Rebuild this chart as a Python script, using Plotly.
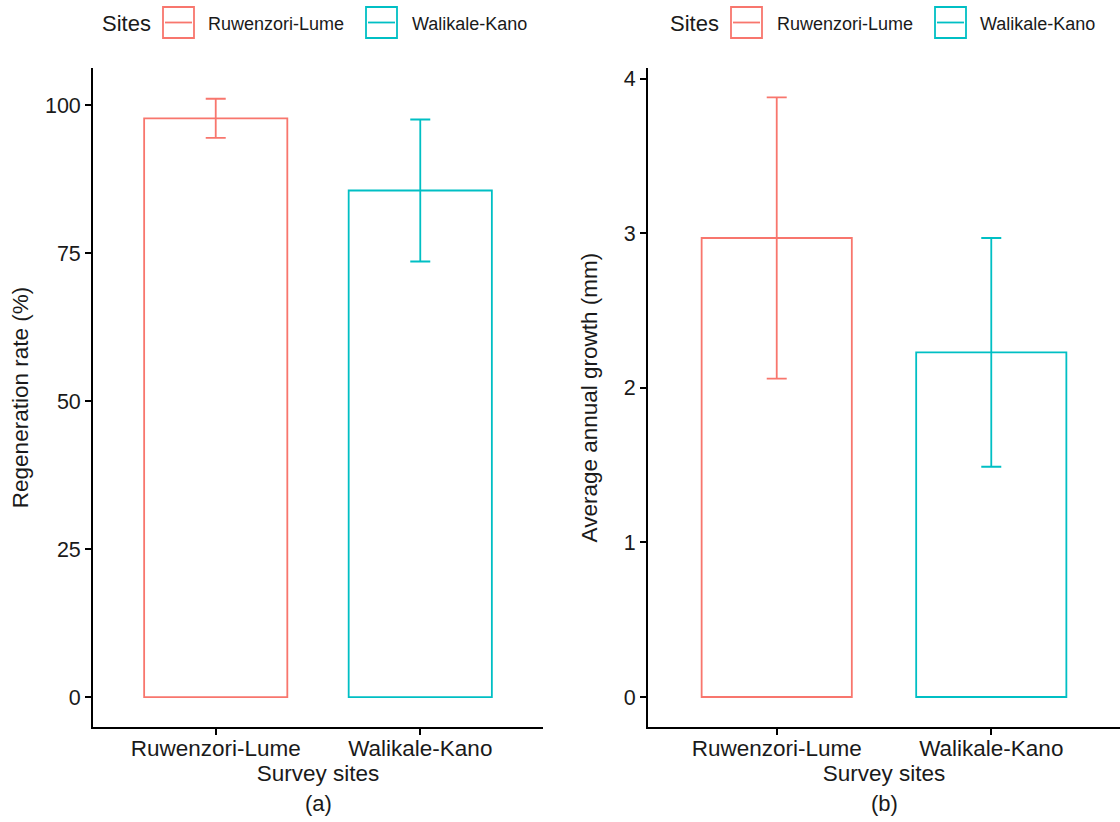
import plotly.graph_objects as go

sites = ["Ruwenzori-Lume", "Walikale-Kano"]
colors = ["#F8766D", "#00BFC4"]
regen = [97.8, 85.6]
regen_err = [3.3, 12.0]
growth = [2.97, 2.23]
growth_err = [0.91, 0.74]
legend_title = "Sites"

FONT = "Liberation Sans, Arial, sans-serif"
W, H = 1120, 822

fig = go.Figure()

for i, s in enumerate(sites):
    fig.add_trace(go.Bar(
        x=[s], y=[regen[i]], name=s, width=0.7,
        marker=dict(color="rgba(0,0,0,0)", line=dict(color=colors[i], width=1.8)),
        error_y=dict(type="data", array=[regen_err[i]], color=colors[i], thickness=1.8, width=10),
        xaxis="x", yaxis="y", showlegend=False,
    ))
for i, s in enumerate(sites):
    fig.add_trace(go.Bar(
        x=[s], y=[growth[i]], name=s, width=0.7,
        marker=dict(color="rgba(0,0,0,0)", line=dict(color=colors[i], width=1.8)),
        error_y=dict(type="data", array=[growth_err[i]], color=colors[i], thickness=1.8, width=10),
        xaxis="x2", yaxis="y2", showlegend=False,
    ))

def axis_common(tsize):
    return dict(
        showline=True, linecolor="black", linewidth=1.8, ticks="outside", ticklen=6,
        tickwidth=1.8, tickcolor="black", showgrid=False, zeroline=False,
        tickfont=dict(family=FONT, size=tsize, color="#1a1a1a"),
    )

# manual ggplot-style legends (key = outlined square with a horizontal line)
shapes = []
annotations = []
legend_specs = [
    dict(title_x=100, keys_x=[163, 366], text_x=[206, 410]),
    dict(title_x=668, keys_x=[731, 935], text_x=[775, 978]),
]
ky0, ky1 = 7, 38
for spec in legend_specs:
    annotations.append(dict(text=legend_title, x=spec["title_x"] / W, y=1 - 23 / H,
                            xref="paper", yref="paper", showarrow=False, xanchor="left",
                            yanchor="middle", font=dict(family=FONT, size=22, color="#1a1a1a")))
    for i, s in enumerate(sites):
        kx = spec["keys_x"][i]
        shapes.append(dict(type="rect", xref="paper", yref="paper",
                           x0=kx / W, x1=(kx + 31) / W, y0=1 - ky1 / H, y1=1 - ky0 / H,
                           line=dict(color=colors[i], width=1.8), fillcolor="white"))
        shapes.append(dict(type="line", xref="paper", yref="paper",
                           x0=(kx + 2) / W, x1=(kx + 29) / W,
                           y0=1 - (ky0 + ky1) / 2 / H, y1=1 - (ky0 + ky1) / 2 / H,
                           line=dict(color=colors[i], width=1.8)))
        annotations.append(dict(text=s, x=spec["text_x"][i] / W, y=1 - 24 / H,
                                xref="paper", yref="paper", showarrow=False, xanchor="left",
                                yanchor="middle", font=dict(family=FONT, size=18, color="#1a1a1a")))

annotations += [
    dict(text="(a)", x=(93 + 543) / 2 / W, y=1 - 803 / H, xref="paper", yref="paper",
         showarrow=False, font=dict(family=FONT, size=22, color="#1a1a1a"),
         xanchor="center", yanchor="middle"),
    dict(text="(b)", x=(648 + 1120) / 2 / W, y=1 - 803 / H, xref="paper", yref="paper",
         showarrow=False, font=dict(family=FONT, size=22, color="#1a1a1a"),
         xanchor="center", yanchor="middle"),
]

title_font = dict(family=FONT, size=22.5, color="#1a1a1a")

fig.update_layout(
    width=W, height=H,
    margin=dict(l=0, r=0, t=0, b=0),
    paper_bgcolor="white", plot_bgcolor="white",
    barmode="overlay", showlegend=False,
    font=dict(family=FONT, color="black"),
    xaxis=dict(domain=[93 / W, 543 / W], anchor="y", type="category",
               categoryorder="array", categoryarray=sites, range=[-0.6, 1.6],
               title=dict(text="Survey sites", font=title_font, standoff=3),
               ticklabelstandoff=-6,
               **axis_common(22.5)),
    yaxis=dict(domain=[1 - 727 / H, 1 - 68 / H], anchor="x", range=[-5.06, 106.3],
               tickvals=[0, 25, 50, 75, 100],
               title=dict(text="Regeneration rate (%)", font=title_font, standoff=10),
               **axis_common(21.5)),
    xaxis2=dict(domain=[648 / W, 1.0], anchor="y2", type="category",
                categoryorder="array", categoryarray=sites, range=[-0.6, 1.6],
                title=dict(text="Survey sites", font=title_font, standoff=3),
                ticklabelstandoff=-6,
                **axis_common(22.5)),
    yaxis2=dict(domain=[1 - 727 / H, 1 - 68 / H], anchor="x2", range=[-0.194, 4.07],
                tickvals=[0, 1, 2, 3, 4],
                title=dict(text="Average annual growth (mm)", font=title_font, standoff=20),
                **axis_common(21.5)),
    shapes=shapes,
    annotations=annotations,
)

fig.write_html("out.html")
